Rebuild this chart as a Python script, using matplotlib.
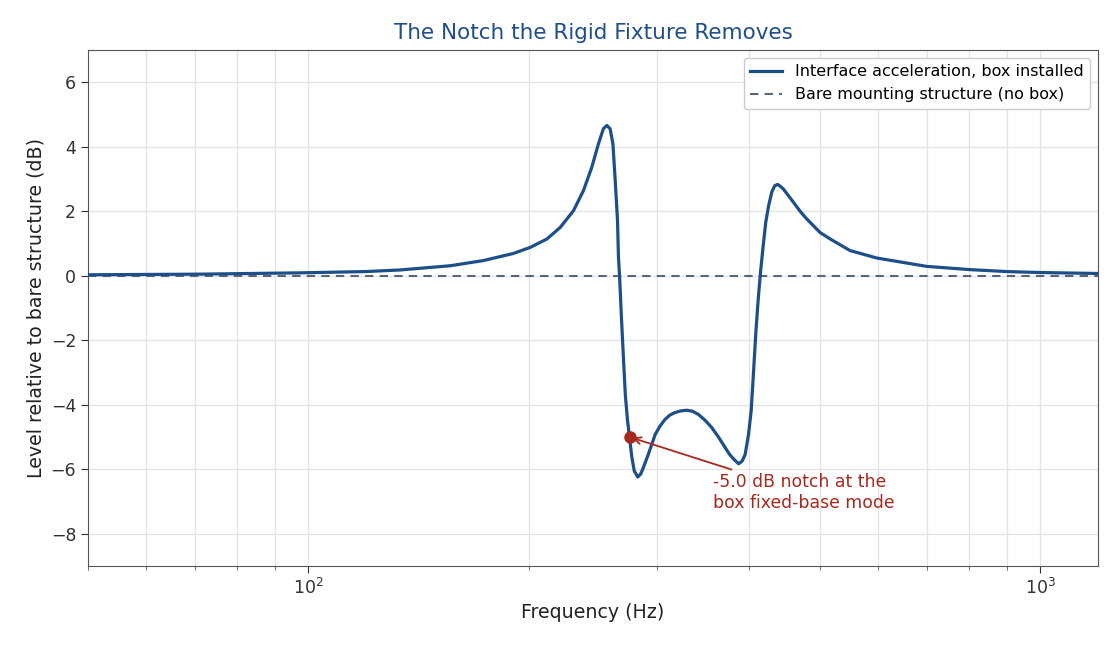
import matplotlib
matplotlib.use('Agg')
import matplotlib.pyplot as plt
from matplotlib.ticker import LogLocator, NullFormatter

# values
freq_hz = [50, 71.2, 97.5, 120, 133.6, 156.3, 173.4, 190.6, 201.1, 211.9, 221.0, 230.4,
           237.7, 244.0, 249.2, 253.1, 255.9, 258.5, 260.8, 262.7, 264.6, 265.4,
           266.3, 267.9, 269.7, 271.2, 273.1, 274.8, 276.7, 278.9, 282.0, 284.6, 287.0,
           291.5, 297.9, 302.5, 307.4, 312.0, 317.1, 323.0, 329.1, 335.0, 341.3, 348.5,
           356.0, 363.5, 371.3, 376.0, 380.7, 387.4, 391.6,
           395.4, 399.6, 402.9, 405.9, 408.8, 411.9, 415.1, 418.8, 421.8, 425.5, 430.0,
           433.9, 437.7, 441.4, 445.9, 452.5, 460.2, 470.0, 480.0, 500.5, 516.7, 550.1,
           598.3, 700, 802, 900, 1000, 1200]
level_db = [0.03, 0.05, 0.09, 0.13, 0.18, 0.31, 0.47, 0.69, 0.88, 1.14, 1.50, 2.02,
            2.64, 3.36, 4.09, 4.56, 4.66, 4.56, 4.09, 2.95, 1.71, 0.57,
            0.0, -1.30, -2.64, -3.70, -4.50, -5.02, -5.60, -6.05, -6.24, -6.15, -5.95,
            -5.54, -4.92, -4.66, -4.45, -4.32, -4.24, -4.19, -4.17, -4.20, -4.30, -4.48,
            -4.71, -5.00, -5.33, -5.52, -5.67, -5.83, -5.75,
            -5.54, -4.92, -4.20, -3.00, -1.80, -0.75, 0.15, 1.00, 1.65, 2.15, 2.60,
            2.79, 2.83, 2.78, 2.69, 2.50, 2.28, 2.00, 1.76, 1.34, 1.14, 0.78,
            0.55, 0.29, 0.19, 0.13, 0.10, 0.07]
bare_db = [0.0, 0.0]
bare_freq = [50, 1200]
notch_freq = 274.8
notch_db = -5.0

blue = '#1c4f8a'
red = '#a8281e'

fig = plt.figure(figsize=(11.18, 6.5), dpi=100)
ax = fig.add_axes([0.0787, 0.1292, 0.9034, 0.7939])

ax.plot(freq_hz, level_db, color=blue, lw=2.3, label='Interface acceleration, box installed', zorder=3)
ax.plot(bare_freq, bare_db, color='#5a6678', lw=1.5, ls=(0, (4, 3)),
        label='Bare mounting structure (no box)', zorder=2)
ax.plot([notch_freq], [notch_db], 'o', color=red, ms=8, zorder=4)
ax.annotate('-5.0 dB notch at the\nbox fixed-base mode', xy=(notch_freq, notch_db),
            xytext=(357, -6.12), color=red, fontsize=12.4, va='top', ha='left',
            arrowprops=dict(arrowstyle='->', color=red, lw=1.3))

ax.set_xscale('log')
ax.set_xlim(50, 1200)
ax.set_ylim(-9, 7)
ax.set_yticks([-8, -6, -4, -2, 0, 2, 4, 6])
ax.xaxis.set_minor_locator(LogLocator(base=10, subs=range(2, 10)))
ax.xaxis.set_minor_formatter(NullFormatter())

ax.grid(True, which='major', color='#e3e3e3', lw=0.9)
ax.grid(True, which='minor', axis='x', color='#e3e3e3', lw=0.9)
ax.set_axisbelow(True)
for s in ax.spines.values():
    s.set_color('#555555')
ax.tick_params(which='major', labelsize=12.5, colors='#333333', length=5)
ax.tick_params(which='minor', colors='#555555', length=3)

ax.set_title('The Notch the Rigid Fixture Removes', fontsize=15.5, color='#1f4e8c', pad=8)
ax.set_xlabel('Frequency (Hz)', fontsize=13.7, color='#222222')
ax.set_ylabel('Level relative to bare structure (dB)', fontsize=13.7, color='#222222')
ax.legend(loc='upper right', fontsize=11.5, framealpha=1, edgecolor='#cccccc')

fig.savefig('out.png', dpi=100)
